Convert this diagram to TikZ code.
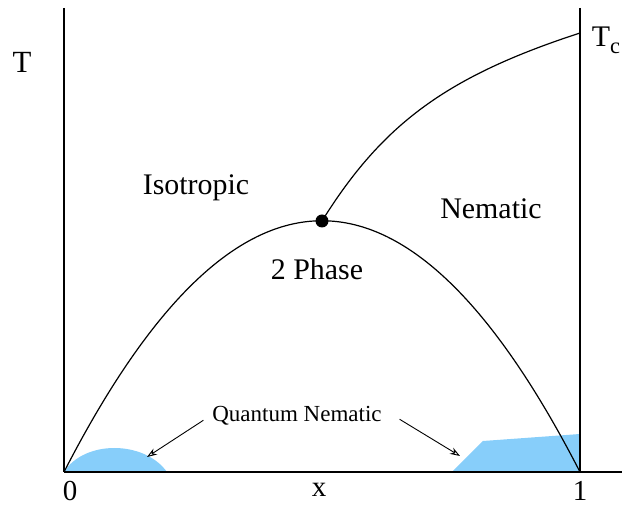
\documentclass[tikz,border=0pt]{standalone}
\usepackage{fontspec}
\setmainfont{Liberation Serif}
\usetikzlibrary{arrows.meta}
\definecolor{qblue}{RGB}{135,206,250}
\newcommand{\biglabel}[1]{\scalebox{1.3}{#1}}
\tikzset{
  phase/.style={font=\fontsize{9.2}{10}\selectfont, anchor=base},
  pointer/.style={-{Stealth[open, length=4pt, width=2.8pt]}, line width=0.36pt}
}
\begin{document}
\begin{tikzpicture}[x=0.4pt, y=-0.4pt, line width=0.48pt]
\useasboundingbox (0,0) rectangle (622,506);
% quantum nematic regions
\fill[qblue] (64,472) .. controls (84,440) and (144,440) .. (167,472) -- cycle;
\fill[qblue] (452,472) -- (483,441) -- (580,434) -- (580,472) -- cycle;
% axes
\coordinate (o) at (64,472);
\coordinate (one) at (580,472);
\coordinate (tc) at (580,33);
\draw (64,8) -- (o);
\draw (580,8) -- (one);
\draw (o) -- (622,472);
% phase boundaries
\node[circle, fill=black, inner sep=0pt, minimum size=5.2pt] (crit) at (322,221) {};
\draw (o) .. controls (236,137) and (408,137) .. (one);
\draw (crit.center) .. controls (383,123) and (448,76) .. (tc);
% labels
\node[phase] (iso) at (196,195) {\biglabel{Isotropic}};
\node[phase] (nem) at (491,219) {\biglabel{Nematic}};
\node[phase] (two) at (317,280) {\biglabel{2 Phase}};
\node[phase] (qn) at (297,422) {Quantum Nematic};
\coordinate (lhump) at (147,457);
\coordinate (rblob) at (460,456);
\draw[pointer] ([shift={(0,4)}]qn.west) -- (lhump);
\draw[pointer] ([shift={(9,3)}]qn.east) -- (rblob);
\node[phase] (tl) at (22,73) {\scalebox{1.34}{T}};
\node[phase, anchor=base west] (tcl) at (583,47) {\biglabel{T\raisebox{-2pt}{\scalebox{0.75}{c}}}};
\node[phase] (zero) at (70,501) {\scalebox{1.26}{0}};
\node[phase] (xl) at (319,497) {\scalebox{1.26}{x}};
\node[phase] (onel) at (580,501) {\scalebox{1.26}{1}};
\end{tikzpicture}
\end{document}
